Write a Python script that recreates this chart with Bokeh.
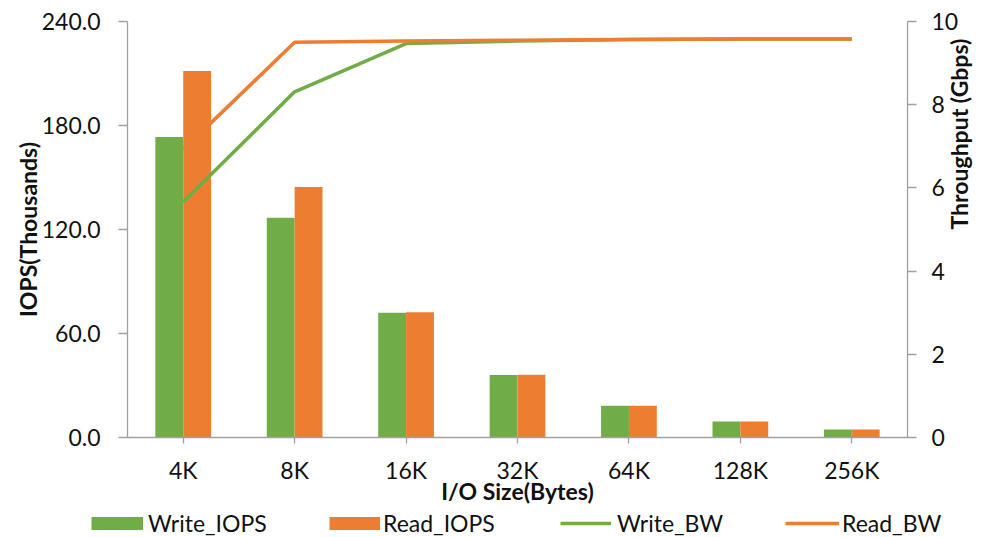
import math
from bokeh.plotting import figure
from bokeh.layouts import column
from bokeh.models import (Range1d, LinearAxis, Legend, LegendItem, FactorRange,
                          FixedTicker, NumeralTickFormatter, ColumnDataSource)
from bokeh.transform import dodge
from bokeh.embed import file_html
from bokeh.resources import INLINE

sizes = ["4K", "8K", "16K", "32K", "64K", "128K", "256K"]
write_iops = [173.4, 126.8, 72.0, 36.0, 18.3, 9.2, 4.6]
read_iops = [211.4, 144.5, 72.3, 36.2, 18.3, 9.2, 4.6]
write_bw = [5.66, 8.31, 9.47, 9.53, 9.57, 9.58, 9.58]
read_bw = [6.92, 9.50, 9.53, 9.55, 9.57, 9.58, 9.58]

left_ticks = [0, 60, 120, 180, 240]
right_ticks = [0, 2, 4, 6, 8, 10]
series_names = ["Write_IOPS", "Read_IOPS", "Write_BW", "Read_BW"]

GREEN = "#70AD47"
ORANGE = "#ED7D31"
AXIS = "#a0a0a0"
FONT = "Lato"
TXT = "#111111"

src = ColumnDataSource(dict(size=sizes, w=write_iops, r=read_iops, wbw=write_bw, rbw=read_bw))

p = figure(x_range=FactorRange(*sizes), y_range=Range1d(0, 240),
           width=992, height=508, output_backend="svg", toolbar_location=None,
           min_border_left=127, min_border_right=85, min_border_top=21, min_border_bottom=71)
p.extra_y_ranges = {"bw": Range1d(0, 10)}
p.frame_align = False

p.vbar(x=dodge("size", -0.125, range=p.x_range), top="w", width=0.25, source=src,
       fill_color=GREEN, line_color=None)
p.vbar(x=dodge("size", 0.125, range=p.x_range), top="r", width=0.25, source=src,
       fill_color=ORANGE, line_color=None)
p.line(x="size", y="wbw", source=src, y_range_name="bw", line_color=GREEN, line_width=3.5)
p.line(x="size", y="rbw", source=src, y_range_name="bw", line_color=ORANGE, line_width=3.5)

p.xgrid.visible = False
p.ygrid.visible = False
p.outline_line_color = None

def style(ax):
    ax.axis_line_color = AXIS
    ax.axis_line_width = 1.3
    ax.major_tick_line_color = AXIS
    ax.major_tick_line_width = 1.3
    ax.major_tick_in = 0
    ax.minor_tick_line_color = None
    ax.major_label_text_font = FONT
    ax.major_label_text_font_size = "23px"
    ax.major_label_text_color = TXT
    ax.axis_label_text_font = FONT
    ax.axis_label_text_font_size = "23px"
    ax.axis_label_text_font_style = "bold"
    ax.axis_label_text_color = TXT

ly = p.yaxis[0]
style(ly)
ly.ticker = FixedTicker(ticks=left_ticks)
ly.formatter = NumeralTickFormatter(format="0.0")
ly.major_tick_out = 9
ly.major_label_standoff = 18
ly.axis_label = "IOPS(Thousands)"
ly.axis_label_standoff = -3

ry = LinearAxis(y_range_name="bw", ticker=FixedTicker(ticks=right_ticks))
style(ry)
ry.major_tick_out = 9
ry.major_label_standoff = 15
ry.axis_label = "Throughput (Gbps)"
ry.axis_label_standoff = -2
ry.axis_label_orientation = math.pi / 2
p.add_layout(ry, "right")

xa = p.xaxis[0]
style(xa)
xa.major_tick_out = 6
xa.major_label_standoff = 12
xa.axis_label = "I/O Size(Bytes)"
xa.axis_label_standoff = -10

# legend strip below the chart
lf = figure(width=992, height=29, x_range=Range1d(0, 992), y_range=Range1d(0, 29),
            output_backend="svg", toolbar_location=None, min_border=0)
lf.frame_align = False
lf.axis.visible = False
lf.xgrid.visible = False
lf.ygrid.visible = False
lf.outline_line_color = None

k1 = lf.line(x=[0], y=[0], line_color=GREEN, line_width=13, visible=False)
k2 = lf.line(x=[0], y=[0], line_color=ORANGE, line_width=13, visible=False)
k3 = lf.line(x=[0], y=[0], line_color=GREEN, line_width=3.5, visible=False)
k4 = lf.line(x=[0], y=[0], line_color=ORANGE, line_width=3.5, visible=False)

for name, rend, vx, gw, so in zip(series_names, [k1, k2, k3, k4],
                                  [91, 329, 560, 785], [52, 51, 51, 54], [5, 3, 6, 3]):
    lg = Legend(items=[LegendItem(label=name, renderers=[rend])], location=(vx, 0),
                orientation="horizontal", padding=0, margin=0, spacing=0,
                border_line_color=None, background_fill_alpha=0,
                glyph_width=gw, glyph_height=24, label_height=24, label_standoff=so,
                label_text_font=FONT, label_text_font_size="23px", label_text_color=TXT)
    lf.add_layout(lg, "center")

layout = column(p, lf, spacing=0)
open("out.html", "w").write(file_html(layout, INLINE))
